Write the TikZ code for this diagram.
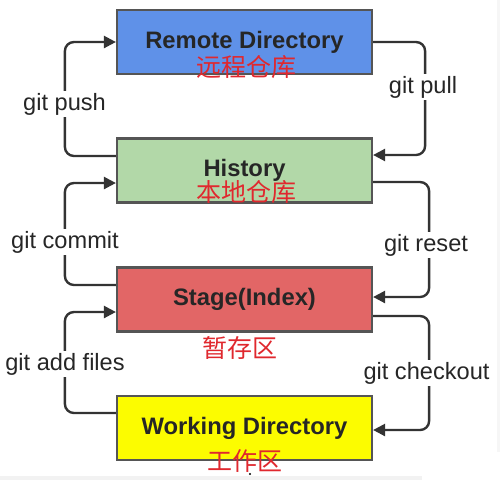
\documentclass[tikz,border=0pt]{standalone}
\usepackage{fontspec}
\setmainfont{Liberation Sans}
\newfontfamily\cjk{Noto Sans CJK SC}
\usetikzlibrary{arrows.meta,calc}
\definecolor{cblue}{HTML}{5F91E8}
\definecolor{cgreen}{HTML}{B2D8A8}
\definecolor{cred}{HTML}{E26666}
\definecolor{cyellow}{HTML}{FCFC00}
\definecolor{cborder}{HTML}{555555}
\definecolor{cline}{HTML}{333333}
\definecolor{czh}{HTML}{E0282E}
\begin{document}
\begin{tikzpicture}[x=1pt,y=-1pt,
  box/.style={draw=cborder,line width=2.2pt,minimum width=255pt,minimum height=64pt,inner sep=0pt,
    font=\fontsize{23.8}{26}\selectfont\bfseries,text=black!85},
  zh/.style={text=czh,font=\cjk\fontsize{25}{27}\selectfont,inner sep=0pt},
  conn/.style={draw=cline,line width=2.4pt,rounded corners=9pt,-{Triangle[length=12pt,width=12pt]}},
  lbl/.style={fill=white,inner sep=2pt,font=\fontsize{23.6}{26}\selectfont,text=black!85}]
\useasboundingbox (0,0) rectangle (500,480);
\fill[white] (0,0) rectangle (500,480);
\fill[gray!10] (0,476) rectangle (422,480);
\fill[gray!7] (497,0) rectangle (500,452);
\fill[black] (250,474) circle (1.2);
% boxes
\node[box,fill=cblue] (remote) at (244.5,42) {Remote Directory};
\node[box,fill=cgreen] (hist) at (244.5,170.5) {\raisebox{2.5pt}{History}};
\node[box,fill=cred] (stage) at (244.5,299.5) {Stage(Index)};
\node[box,fill=cyellow] (work) at (244.5,428) {Working Directory};
% chinese labels
\node[zh] (zremote) at (246,67) {远程仓库};
\node[zh] (zhist) at (246,192) {本地仓库};
\node[zh] (zstage) at (240,348) {暂存区};
\node[zh] (zwork) at (245,461) {工作区};
% left connectors
\draw[conn] ([yshift=14.5pt]hist.west) -- ++(-51,0) |- (remote.west);
\draw[conn] ([yshift=14.5pt]stage.west) -- ++(-51,0) |- ([yshift=-12.5pt]hist.west);
\draw[conn] ([yshift=15pt]work.west) -- ++(-51,0) |- ([yshift=-12.5pt]stage.west);
% right connectors
\draw[conn] (remote.east) -- ++(52,0) |- ([yshift=15.5pt]hist.east);
\draw[conn] ([yshift=-11.5pt]hist.east) -- ++(56,0) |- ([yshift=2.5pt]stage.east);
\draw[conn] ([yshift=-16.5pt]stage.east) -- ++(56,0) |- ([yshift=-2pt]work.east);
% labels
\node[lbl] (lpush) at (64.5,104) {git push};
\node[lbl] (lcommit) at (65,242) {git commit};
\node[lbl] (ladd) at (65,364) {git add files};
\node[lbl] (lpull) at (423,87) {git pull};
\node[lbl] (lreset) at (426,245) {git reset};
\node[lbl] (lcheckout) at (426.5,373) {git checkout};
\end{tikzpicture}
\end{document}
